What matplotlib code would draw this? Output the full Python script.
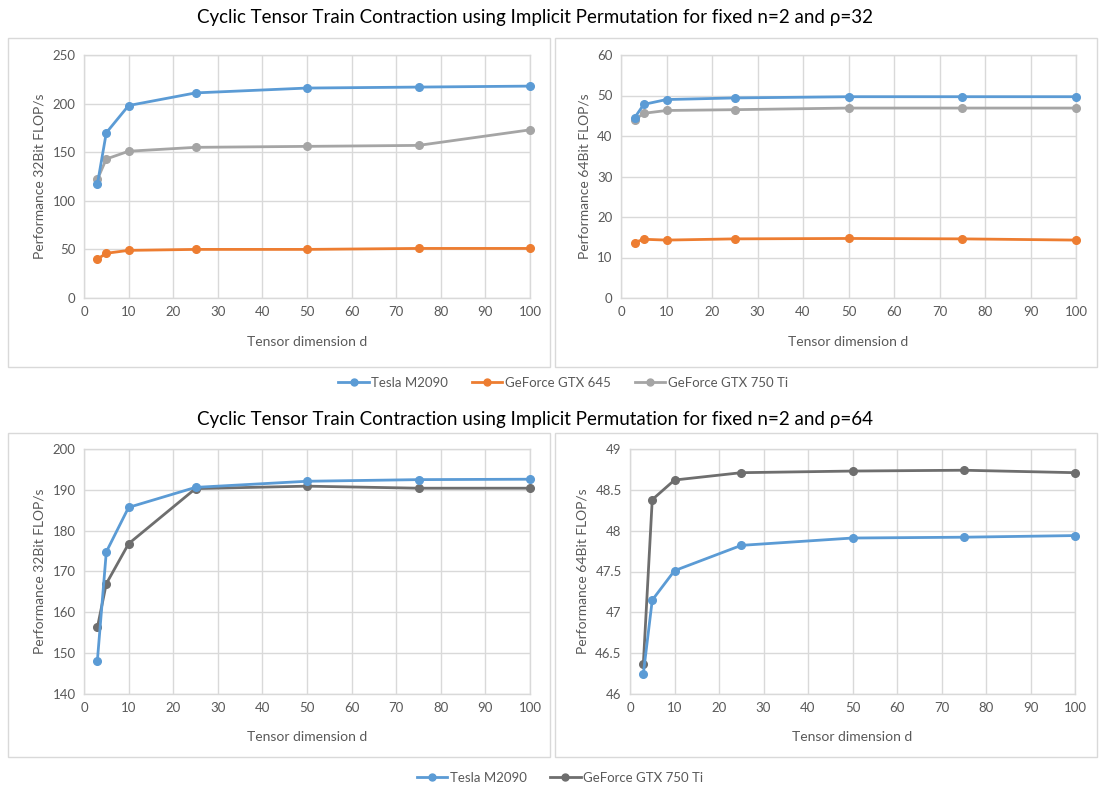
import matplotlib
matplotlib.use("Agg")
import matplotlib.pyplot as plt
from matplotlib.patches import Rectangle
from matplotlib.lines import Line2D
import numpy as np

plt.rcParams['font.family'] = ['Lato', 'DejaVu Sans']

d = [3, 5, 10, 25, 50, 75, 100]

# rho = 32, 32 bit
r32_f32_tesla = [117, 170, 198, 211, 216, 217, 218]
r32_f32_gtx645 = [40, 46, 49, 50, 50, 51, 51]
r32_f32_gtx750 = [122, 143, 151, 155, 156, 157, 173]
# rho = 32, 64 bit
r32_f64_tesla = [44.5, 47.8, 49.0, 49.4, 49.7, 49.7, 49.7]
r32_f64_gtx645 = [13.7, 14.5, 14.3, 14.6, 14.7, 14.6, 14.3]
r32_f64_gtx750 = [44.0, 45.6, 46.3, 46.5, 46.9, 46.9, 46.9]
# rho = 64, 32 bit
r64_f32_tesla = [148.2, 174.8, 185.7, 190.6, 192.1, 192.5, 192.6]
r64_f32_gtx750 = [156.3, 167.0, 176.8, 190.3, 190.9, 190.4, 190.4]
# rho = 64, 64 bit
r64_f64_tesla = [46.25, 47.15, 47.51, 47.82, 47.91, 47.92, 47.94]
r64_f64_gtx750 = [46.37, 48.38, 48.62, 48.71, 48.73, 48.74, 48.71]

labels = ["Tesla M2090", "GeForce GTX 645", "GeForce GTX 750 Ti"]
title1 = "Cyclic Tensor Train Contraction using Implicit Permutation for fixed n=2 and \u03c1=32"
title2 = "Cyclic Tensor Train Contraction using Implicit Permutation for fixed n=2 and \u03c1=64"

C_TESLA = "#5B9BD5"
C_645 = "#ED7D31"
C_750 = "#A5A5A5"
C_750D = "#6E6E6E"
GRID = "#D9D9D9"
TXT = "#595959"

W, H = 1099, 787
fig = plt.figure(figsize=(W / 100, H / 100), dpi=100)


def fx(px):
    return px / W


def fy(py):
    return 1 - py / H


def frame(x0, y0, x1, y1):
    fig.patches.append(Rectangle((fx(x0), fy(y1)), fx(x1) - fx(x0), fy(y0) - fy(y1),
                                 transform=fig.transFigure, fill=False,
                                 edgecolor=GRID, linewidth=1.0, zorder=0))


def make_ax(x0, y0, x1, y1, ylim, ystep, ylabel, series, xlpad):
    ax = fig.add_axes([fx(x0), fy(y1), fx(x1) - fx(x0), fy(y0) - fy(y1)])
    for vals, col in series:
        ax.plot(d, vals, color=col, marker='o', markersize=5.5, linewidth=2.0,
                clip_on=False, zorder=3)
    ax.set_xlim(0, 100)
    ax.set_ylim(*ylim)
    ax.set_xticks(range(0, 101, 10))
    yt = np.arange(ylim[0], ylim[1] + ystep / 2, ystep)
    ax.set_yticks(yt)
    ax.set_yticklabels([("%g" % v) for v in yt])
    ax.grid(True, color=GRID, linewidth=1.0)
    ax.set_axisbelow(True)
    for s in ax.spines.values():
        s.set_color(GRID)
        s.set_linewidth(1.0)
    ax.tick_params(length=0, colors=TXT, labelsize=9.5, pad=6)
    ax.set_xlabel("Tensor dimension d", color=TXT, fontsize=10, labelpad=xlpad)
    ax.set_ylabel(ylabel, color=TXT, fontsize=10, labelpad=5)
    return ax


# frames
frame(8, 38, 550, 367)
frame(555, 38, 1097, 367)
frame(8, 433, 550, 757)
frame(555, 433, 1097, 757)

fig.text(fx(535), fy(18), title1, ha='center', va='center', fontsize=13.5, color='black')
fig.text(fx(535), fy(420), title2, ha='center', va='center', fontsize=13.5, color='black')

make_ax(84, 55, 530, 298, (0, 250), 50, "Performance 32Bit FLOP/s",
        [(r32_f32_gtx750, C_750), (r32_f32_gtx645, C_645), (r32_f32_tesla, C_TESLA)], 13)
make_ax(621, 55, 1076, 298, (0, 60), 10, "Performance 64Bit FLOP/s",
        [(r32_f64_gtx750, C_750), (r32_f64_gtx645, C_645), (r32_f64_tesla, C_TESLA)], 13)
make_ax(84, 449, 530, 694, (140, 200), 10, "Performance 32Bit FLOP/s",
        [(r64_f32_gtx750, C_750D), (r64_f32_tesla, C_TESLA)], 12)
make_ax(630, 449, 1075, 694, (46, 49), 0.5, "Performance 64Bit FLOP/s",
        [(r64_f64_gtx750, C_750D), (r64_f64_tesla, C_TESLA)], 12)


def handle(c):
    return Line2D([], [], color=c, marker='o', markersize=5, linewidth=2.0)


fig.legend([handle(C_TESLA), handle(C_645), handle(C_750)], labels,
           loc='center', bbox_to_anchor=(fx(563), fy(383)), ncol=3, frameon=False,
           fontsize=9.5, labelcolor=TXT, handlelength=2.3, columnspacing=1.8,
           handletextpad=0.2)
fig.legend([handle(C_TESLA), handle(C_750D)], [labels[0], labels[2]],
           loc='center', bbox_to_anchor=(fx(560), fy(778)), ncol=2, frameon=False,
           fontsize=9.5, labelcolor=TXT, handlelength=2.3, columnspacing=1.8,
           handletextpad=0.2)

fig.savefig("out.png", dpi=100)
